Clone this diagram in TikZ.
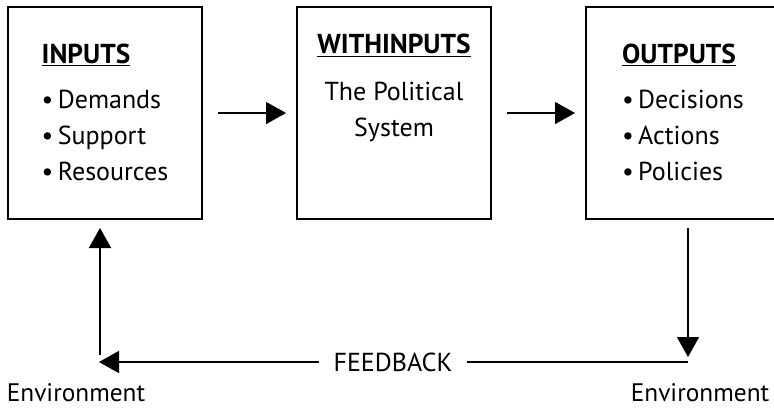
\documentclass[tikz,border=0pt]{standalone}
\usepackage{fontspec}
\setmainfont{PT Sans}
\usetikzlibrary{positioning}
\usetikzlibrary{arrows.meta}
\usetikzlibrary{math}

\newcommand{\boxtitle}[1]{{\fontsize{20.5}{27}\selectfont\bfseries\underline{#1}}}

\tikzset{
    sysbox/.style={draw=black, line width=1.5pt, minimum width=145.5pt, minimum height=159pt, inner sep=0pt},
    boxtext/.style={inner sep=0pt, font=\fontsize{19.5}{27}\selectfont},
    flow/.style={line width=1.2pt, -{Triangle[width=16.5pt,length=15pt]}},
    plainline/.style={line width=1.2pt},
    envtext/.style={inner sep=0pt, font=\fontsize{19}{23}\selectfont},
}

\begin{document}
\begin{tikzpicture}[x=0.75pt,y=-0.75pt]

% Position settings
\tikzmath{
    \RowY = 113;
    \LoopY = 362;
}

\useasboundingbox (0,0) rectangle (774,415);

% Draws the three boxes
\node[sysbox] (inputs) at (105,\RowY) {};
\node[sysbox] (within) at (394,\RowY) {};
\node[sysbox] (outputs) at (683,\RowY) {};

% Writes box contents
\node[boxtext, align=left, below=28pt of inputs.north] (inputslist)
    {\boxtitle{INPUTS}\\[7pt]
     \textbullet\,Demands\\
     \textbullet\,Support\\
     \textbullet\,Resources};
\node[boxtext, align=center, below=21pt of within.north] (withinlist)
    {\boxtitle{WITHINPUTS}\\[8pt]
     The Political\\
     System};
\node[boxtext, align=left, below=28pt of outputs.north] (outputslist)
    {\boxtitle{OUTPUTS}\\[7pt]
     \textbullet\,Decisions\\
     \textbullet\,Actions\\
     \textbullet\,Policies};

% Draws arrows between boxes
\draw[flow, shorten <=11.25pt, shorten >=7.5pt] (inputs) -- (within);
\draw[flow, shorten <=11.25pt, shorten >=7.5pt] (within) -- (outputs);

% Draws feedback loop
\coordinate (OutFoot) at (688,228);
\coordinate (RightCorner) at (688,\LoopY);
\coordinate (LeftCorner) at (99,\LoopY);
\coordinate (InFoot) at (100,228);

\node[boxtext, inner xsep=11pt] (feedback) at (393,\LoopY) {FEEDBACK};

\draw[flow, shorten >=3.75pt] (OutFoot) -- (RightCorner);
\draw[plainline] (RightCorner) -- (feedback);
\draw[flow] (feedback) -- (LeftCorner);
\draw[flow, shorten <=5.25pt] (LeftCorner -| InFoot) -- (InFoot);

% Environment labels
\node[envtext] (envleft) at (76,393) {Environment};
\node[envtext] (envright) at (700,393) {Environment};

\end{tikzpicture}
\end{document}
